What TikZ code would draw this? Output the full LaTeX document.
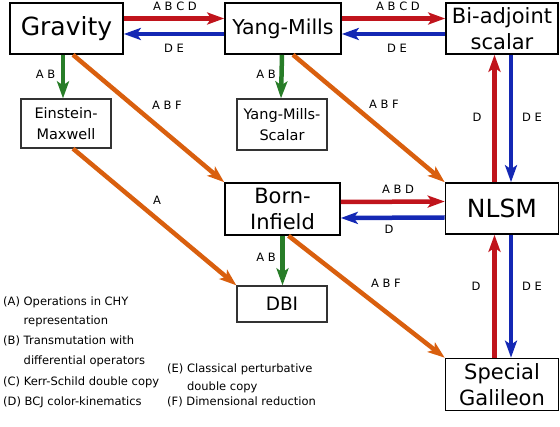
\documentclass[tikz,border=0pt]{standalone}
\usepackage{fontspec}
\setmainfont{DejaVu Sans}
\usepackage{xcolor}
\usetikzlibrary{arrows.meta, calc}
\definecolor{ArrRed}{RGB}{192,20,28}
\definecolor{ArrBlue}{RGB}{20,40,180}
\definecolor{ArrOrange}{RGB}{217,95,14}
\definecolor{ArrGreen}{RGB}{40,125,40}

\begin{document}
\begin{tikzpicture}[x=1pt, y=-1pt,
  bigbox/.style={draw, line width=1.6pt, inner sep=0pt, align=center, minimum width=113pt, minimum height=51pt, font=\fontsize{21}{26}\selectfont},
  smallbox/.style={draw=black!80, line width=1.3pt, inner sep=0pt, align=center, minimum width=90pt, font=\fontsize{14.5}{21}\selectfont},
  link/.style={line width=4.5pt, -{Stealth[length=17pt, width=12pt, inset=4pt]}},
  lbl/.style={font=\fontsize{11.5}{13}\selectfont},
  legend/.style={font=\fontsize{11.5}{14}\selectfont, anchor=west, inner sep=0pt}]
  \useasboundingbox (0,0) rectangle (560,427);
  % Theories
  \node[bigbox, font=\fontsize{25}{30}\selectfont] (grav) at (66.5,28.5) {Gravity};
  \node[bigbox, minimum width=116pt, font=\fontsize{20.5}{26}\selectfont] (ym) at (283,28.5) {Yang-Mills};
  \node[bigbox, minimum width=112pt] (biadj) at (502,28.5) {Bi-adjoint\\scalar};
  \node[smallbox, minimum height=49pt] (em) at (66,123.5) {Einstein-\\Maxwell};
  \node[smallbox, minimum height=51pt] (yms) at (282,124.5) {Yang-Mills-\\Scalar};
  \node[bigbox, minimum width=115pt, minimum height=52pt] (bi) at (282.5,209) {Born-\\Infield};
  \node[bigbox, font=\fontsize{25}{30}\selectfont] (nlsm) at (502,208.5) {NLSM};
  \node[smallbox, minimum height=36pt, font=\fontsize{18.5}{22}\selectfont] (dbi) at (282,304) {DBI};
  \node[bigbox, minimum height=52pt] (sgal) at (502,384.5) {Special\\Galileon};
  % Horizontal links
  \draw[link, ArrRed] ([yshift=10pt]grav.east) -- ([yshift=10pt]ym.west);
  \draw[link, ArrBlue] ([yshift=-5.5pt]ym.west) -- ([yshift=-5.5pt]grav.east);
  \draw[link, ArrRed] ([yshift=10pt]ym.east) -- ([yshift=10pt]biadj.west);
  \draw[link, ArrBlue] ([yshift=-5.5pt]biadj.west) -- ([yshift=-5.5pt]ym.east);
  \draw[link, ArrRed] ([yshift=7pt]bi.east) -- ([yshift=7pt]nlsm.west);
  \draw[link, ArrBlue] ([yshift=-9pt]nlsm.west) -- ([yshift=-9pt]bi.east);
  % Vertical links on the right
  \draw[link, ArrRed] ([xshift=-7.5pt]nlsm.north) -- ([xshift=-7.5pt]biadj.south);
  \draw[link, ArrBlue] ([xshift=9pt]biadj.south) -- ([xshift=9pt]nlsm.north);
  \draw[link, ArrRed] ([xshift=-7.5pt]sgal.north) -- ([xshift=-7.5pt]nlsm.south);
  \draw[link, ArrBlue] ([xshift=9pt]nlsm.south) -- ([xshift=9pt]sgal.north);
  % Green links
  \draw[link, ArrGreen] ([xshift=-3.5pt]grav.south) -- ([xshift=-3pt]em.north);
  \draw[link, ArrGreen] ([xshift=-1pt]ym.south) -- ([xshift=-1pt]yms.north);
  \draw[link, ArrGreen] (bi.south) -- ([xshift=0.5pt]dbi.north);
  % Orange links
  \draw[link, ArrOrange] ([xshift=6.5pt]grav.south) -- (bi.north west);
  \draw[link, ArrOrange] ([xshift=10pt]ym.south) -- (nlsm.north west);
  \draw[link, ArrOrange] ([xshift=7pt]em.south) -- (dbi.north west);
  \draw[link, ArrOrange] ([xshift=6pt]bi.south) -- (sgal.north west);
  % Link labels
  \node[lbl] (lgy) at (175,6) {A B C D};
  \node[lbl] (lyg) at (174,48) {D E};
  \node[lbl] (lyb) at (398,6) {A B C D};
  \node[lbl] (lby) at (397,48) {D E};
  \node[lbl] (lge) at (45.5,74) {A B};
  \node[lbl] (lgb) at (167,105) {A B F};
  \node[lbl] (lys) at (266,74) {A B};
  \node[lbl] (lyn) at (384,104) {A B F};
  \node[lbl] (lnb) at (477,117) {D};
  \node[lbl] (lbn) at (532,117) {D E};
  \node[lbl] (led) at (157,200) {A};
  \node[lbl] (lbd) at (266,257) {A B};
  \node[lbl] (lbin) at (398,189) {A B D};
  \node[lbl] (lnbi) at (389,229) {D};
  \node[lbl] (lbs) at (386,283) {A B F};
  \node[lbl] (lsn) at (476,286) {D};
  \node[lbl] (lns) at (532,286) {D E};
  % Legend
  \node[legend] (legA) at (3,302) {(A) Operations in CHY};
  \node[legend] (legAb) at (3,321) {\phantom{(A) }representation};
  \node[legend] (legB) at (3,341) {(B) Transmutation with};
  \node[legend] (legBb) at (3,361) {\phantom{(B) }differential operators};
  \node[legend] (legC) at (3,382) {(C) Kerr-Schild double copy};
  \node[legend] (legD) at (3,402) {(D) BCJ color-kinematics};
  \node[legend] (legE) at (167,369) {(E) Classical perturbative};
  \node[legend] (legEb) at (167,387) {\phantom{(E) }double copy};
  \node[legend] (legF) at (167,402) {(F) Dimensional reduction};
\end{tikzpicture}
\end{document}
